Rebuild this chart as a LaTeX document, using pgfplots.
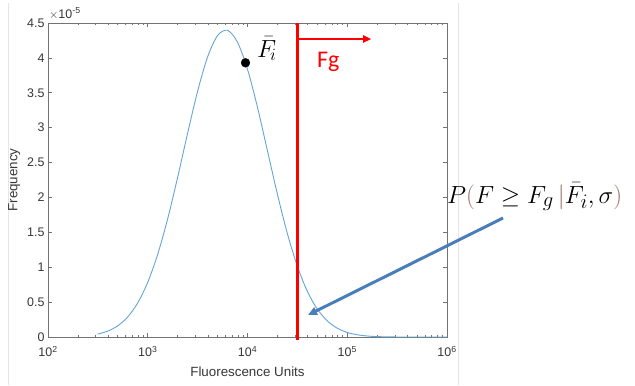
\documentclass[border=0pt]{standalone}
\usepackage{pgfplots}
\pgfplotsset{compat=1.18}
\usetikzlibrary{arrows.meta}
\usepackage{fontspec}
\setmainfont{Liberation Sans}
\newfontfamily\carlito{Carlito}
\definecolor{curveblue}{RGB}{100,165,215}
\definecolor{arrowblue}{RGB}{74,126,187}
\definecolor{parcol}{RGB}{150,105,105}
\definecolor{axgray}{RGB}{115,115,115}
\definecolor{txtgray}{RGB}{55,55,55}
\begin{document}
\begin{tikzpicture}[x=1bp,y=1bp]
\useasboundingbox (0,0) rectangle (635,385);
\fill[white] (0,0) rectangle (635,385);
\draw[black!10, line width=0.8bp] (8,382) -- (8,0);
\draw[black!10, line width=0.8bp] (458,382) -- (458,0);
\begin{axis}[at={(48bp,48bp)}, anchor=south west, scale only axis,
  width=399bp, height=314bp,
  xmode=log, xmin=100, xmax=1000000, ymin=0, ymax=4.5,
  xtick={100,1000,10000,100000,1000000},
  xticklabels={10\textsuperscript{2},10\textsuperscript{3},10\textsuperscript{4},10\textsuperscript{5},10\textsuperscript{6}},
  ytick={0,0.5,1,1.5,2,2.5,3,3.5,4,4.5},
  yticklabels={0,0.5,1,1.5,2,2.5,3,3.5,4,4.5},
  axis line style={axgray, line width=0.7bp},
  every tick/.style={axgray, line width=0.6bp},
  major tick length=4bp, minor tick length=2.2bp,
  ticklabel style={font=\fontsize{12.5}{13}\selectfont, text=txtgray},
  xticklabel style={yshift=-6bp},
  xlabel={Fluorescence Units}, ylabel={Frequency},
  xlabel style={at={(axis description cs:0.5,-0.1115)}, anchor=center, font=\fontsize{13.4}{14}\selectfont, text=txtgray},
  ylabel style={at={(axis description cs:-0.085,0.5)}, anchor=center, rotate=0, font=\fontsize{13.4}{14}\selectfont, text=txtgray},
  clip=false,
]
\addplot[curveblue, line width=0.9bp, smooth] coordinates {
(316.2,0.042) (398.1,0.085) (501.2,0.161) (631.0,0.289) (794.3,0.490)
(1000,0.785) (1258.9,1.186) (1584.9,1.696) (1995.3,2.290) (2511.9,2.923)
(3162.3,3.523) (3981.1,4.014) (5011.9,4.321) (6309.6,4.395)
(7943.3,4.224) (10000,3.836) (12589,3.292) (15849,2.669) (19953,2.045)
(25119,1.480) (31623,1.013) (39811,0.654) (50119,0.400) (63096,0.231)
(79433,0.126) (100000,0.065) (125893,0.032) (158489,0.0145) (199526,0.006)
(316228,0.0006) (1000000,0)};
\addplot[red, line width=3.5bp] coordinates {(31623,-0.045) (31623,4.5)};
\addplot[red, line width=2.6bp, -{Triangle[length=8bp,width=7bp]}] coordinates {(31623,4.27) (173780,4.27)};
\addplot[only marks, mark=*, mark size=4.4bp, black] coordinates {(9550,3.93)};
\end{axis}
\node[anchor=base west, inner sep=0, text=txtgray, font=\fontsize{12.5}{13}\selectfont] at (49,367) {$\times$10\textsuperscript{-5}};
\node[anchor=base west, inner sep=0, red, font=\carlito\fontsize{24}{26}\selectfont] at (317,318) {Fg};
\node[anchor=base west, inner sep=0, font=\fontsize{26}{28}\selectfont] at (257,328) {$\bar{F}_{\!i}$};
\node[anchor=base west, inner sep=0, font=\fontsize{30}{32}\selectfont] at (447,182) {$P{\color{parcol}\bigl(}F \geq F_g\,{\color{parcol}\bigl|}\bar{F}_i,\sigma{\color{parcol}\bigr)}$};
\draw[arrowblue, line width=3bp, -{Triangle[length=9bp,width=8bp]}] (503,167) -- (308,70);
\end{tikzpicture}
\end{document}
